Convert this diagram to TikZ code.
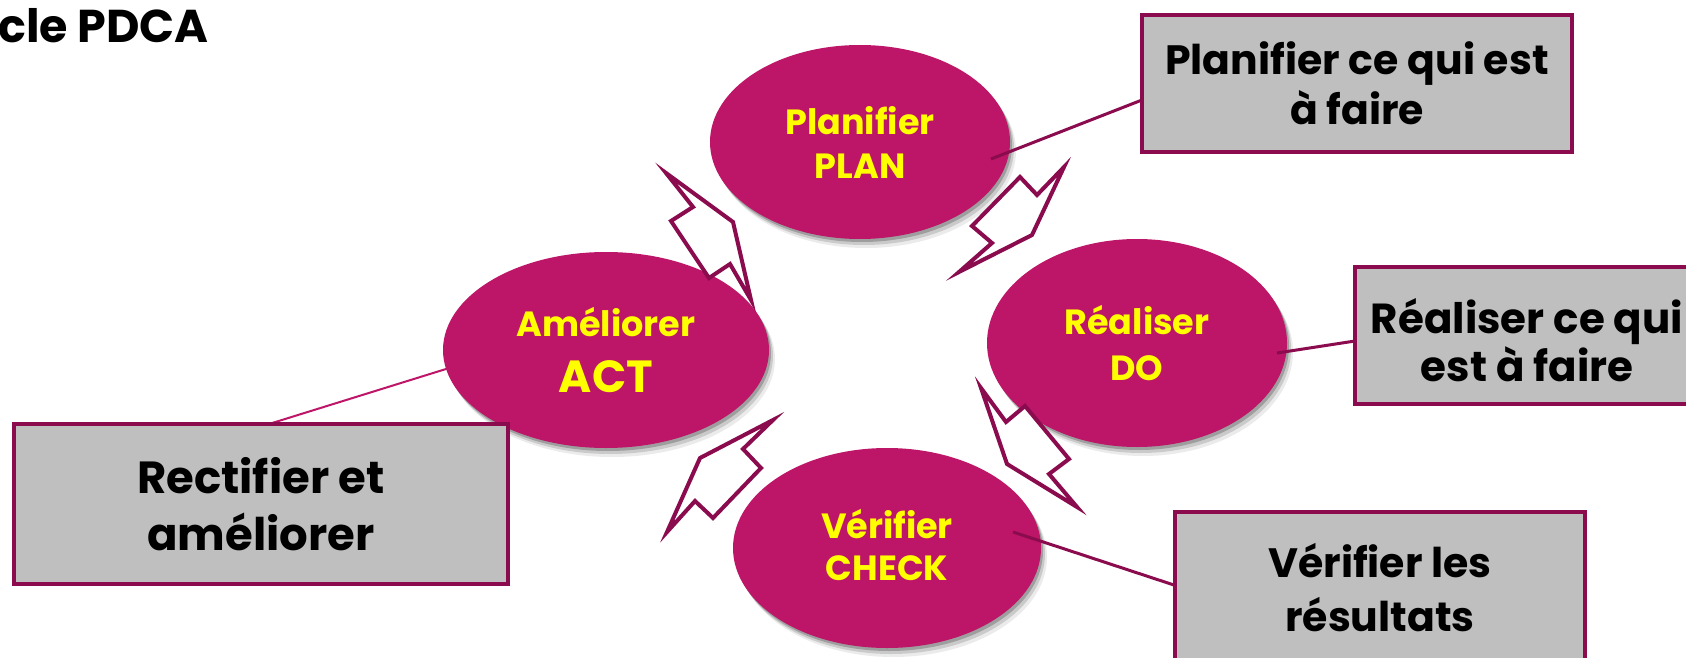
\documentclass[tikz,border=0pt]{standalone}
\usepackage{fontspec}
\setmainfont{Poppins}
\usetikzlibrary{shapes.geometric,shadows}
\definecolor{ellcol}{RGB}{189,21,103}
\definecolor{edgecol}{RGB}{139,12,78}
\definecolor{boxgray}{RGB}{191,191,191}
\definecolor{txtyel}{RGB}{255,255,0}
\tikzset{
  softshadow/.style={
    drop shadow={shadow xshift=2pt,shadow yshift=-3pt,opacity=0.22,fill=black},
    drop shadow={shadow xshift=4pt,shadow yshift=-6pt,opacity=0.14,fill=black},
    drop shadow={shadow xshift=6pt,shadow yshift=-9pt,opacity=0.08,fill=black}},
  ell/.style={ellipse,fill=ellcol,draw=none,inner sep=0pt,softshadow,
    text=txtyel,align=center},
  elltext/.style={inner sep=0pt,text=txtyel,align=center},
  infobox/.style={rectangle,fill=boxgray,draw=edgecol,line width=3.5pt,
    inner sep=0pt,text=black,align=center},
  boxtext/.style={inner sep=0pt,text=black,align=center},
  conn/.style={draw=edgecol,line width=3pt},
  connlight/.style={draw=ellcol,line width=2pt},
  blockarrow/.style={draw=edgecol,fill=white,line width=4pt,line join=miter,miter limit=20},
}
\begin{document}
\begin{tikzpicture}[x=1pt,y=-1pt]
\useasboundingbox (0,0) rectangle (1686,658);

% title
\node[anchor=base west,inner sep=0pt,font=\bfseries\fontsize{46}{50}\selectfont] (title) at (-2,43) {cle PDCA};

% ellipses
\node[ell,minimum width=300,minimum height=194,font=\bfseries\fontsize{35}{44}\selectfont] (plan) at (860,142)
  {Planifier\\PLAN};
\node[ell,minimum width=300,minimum height=208,font=\bfseries\fontsize{35}{46}\selectfont] (do) at (1137,343)
  {Réaliser\\DO};
\node[ell,minimum width=308,minimum height=200] (check) at (887,548) {};
\node[elltext,font=\bfseries\fontsize{35}{42}\selectfont] (checktext) at (887,545) {Vérifier\\CHECK};
\node[ell,minimum width=326,minimum height=196,font=\bfseries\fontsize{35}{44}\selectfont] (act) at (606,350)
  {Améliorer\\[12pt]{\fontsize{45}{54}\selectfont ACT}};

% block arrows
\draw[blockarrow] (666,173) -- (693,207) -- (671,221) -- (709,278) -- (730,264) -- (751,300) -- (733,222) -- cycle;
\draw[blockarrow] (1064,167) -- (1037,195) -- (1020,177) -- (972,226) -- (992,243) -- (959,272) -- (1032,235) -- cycle;
\draw[blockarrow] (981,388) -- (1006,422) -- (1025,406) -- (1069,459) -- (1049,474) -- (1077,507) -- (1007,464) -- cycle;
\draw[blockarrow] (773,420) -- (743,449) -- (761,468) -- (713,518) -- (695,501) -- (667,532) -- (700,458) -- cycle;

% connector end points
\coordinate (planend) at (991,159);
\coordinate (box1end) at (1142,100);
\coordinate (doend) at (1277,353);
\coordinate (box2end) at (1355,341);
\coordinate (actend) at (446,369);
\coordinate (box3end) at (269,424);
\coordinate (checkend) at (1013,532);
\coordinate (box4end) at (1180,587);

\draw[conn] (planend) -- (box1end);
\draw[conn] (doend) -- (box2end);
\draw[connlight] (actend) -- (box3end);
\draw[conn] (checkend) -- (box4end);

% boxes
\node[infobox,minimum width=430,minimum height=137,font=\bfseries\fontsize{41}{50}\selectfont] (box1) at (1357,83.5)
  {Planifier ce qui est\\à faire};
\node[infobox,minimum width=344,minimum height=137] (box2) at (1527,335.5) {};
\node[boxtext,font=\bfseries\fontsize{42}{48}\selectfont] (box2text) at (1527,340)
  {Réaliser ce qui\\est à faire};
\node[infobox,minimum width=494,minimum height=160,font=\bfseries\fontsize{45}{57}\selectfont] (box3) at (261,504)
  {Rectifier et\\améliorer};
\node[infobox,minimum width=410,minimum height=160] (box4) at (1380,592) {};
\node[boxtext,font=\bfseries\fontsize{41}{54}\selectfont] (box4text) at (1380,588)
  {Vérifier les\\résultats};
\end{tikzpicture}
\end{document}
